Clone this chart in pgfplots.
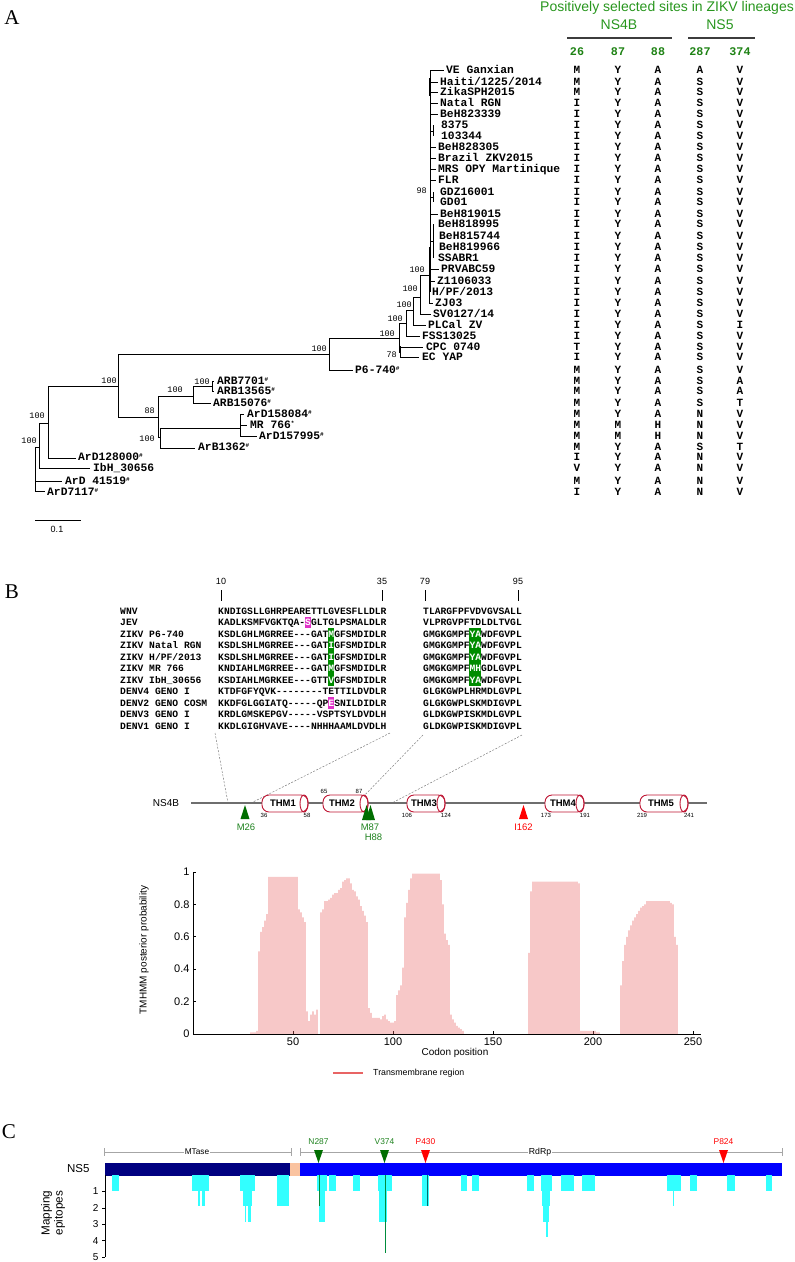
\documentclass[border=0pt]{standalone}
\usepackage{fontspec}
\setmainfont{Liberation Sans}
\newfontfamily\monof{Liberation Mono}
\newfontfamily\seriff{Liberation Serif}
\usepackage{pgfplots}
\pgfplotsset{compat=1.18}
\definecolor{hdgreen}{RGB}{40,150,30}
\definecolor{numgreen}{RGB}{30,130,20}
\definecolor{trigreen}{RGB}{0,110,0}
\definecolor{txtgreen}{RGB}{30,130,30}
\definecolor{hlgreen}{RGB}{0,140,0}
\definecolor{hlmag}{RGB}{225,50,200}
\definecolor{cylred}{RGB}{190,20,50}
\definecolor{tmbar}{RGB}{232,100,100}
\definecolor{navyb}{RGB}{0,0,128}
\definecolor{peach}{RGB}{250,195,160}
\definecolor{epicyan}{RGB}{50,255,255}
\definecolor{linegray}{RGB}{110,110,110}
\definecolor{hdrline}{RGB}{60,60,60}
\definecolor{mkgreen}{RGB}{0,140,60}
\definecolor{mkteal}{RGB}{0,110,110}

\newcommand{\labfont}{\monof\bfseries\fontsize{11.3}{12}\selectfont}
\newcommand{\hs}{\raisebox{3.5pt}{\fontsize{6}{6}\selectfont\#}}
\newcommand{\st}{\raisebox{3.5pt}{\fontsize{6}{6}\selectfont*}}
\tikzset{
 tlab/.style={anchor=base west,inner sep=0pt,yshift=-3.8pt,font=\labfont},
 tcell/.style={anchor=base,inner sep=0pt,yshift=-3.7pt,font=\monof\bfseries\fontsize{11}{12}\selectfont},
 bsl/.style={anchor=south east,inner sep=0pt,font=\monof\fontsize{8.5}{9}\selectfont},
 aln/.style={anchor=base west,inner sep=0pt,yshift=-3.3pt,font=\monof\bfseries\fontsize{9.67}{10}\selectfont},
}
\newcommand{\lab}[3]{\node[tlab] at (axis cs:#1,#2) {#3};}
\newcommand{\bs}[3]{\node[bsl] at (axis cs:#1,#2) {#3};}
\newcommand{\row}[6]{%
 \node[tcell] at (axis cs:577,#1) {#2};%
 \node[tcell] at (axis cs:618,#1) {#3};%
 \node[tcell] at (axis cs:658,#1) {#4};%
 \node[tcell] at (axis cs:700,#1) {#5};%
 \node[tcell] at (axis cs:740,#1) {#6};}
\newcommand{\aln}[4]{%
 \node[aln] at (axis cs:120,#1) {#2};%
 \node[aln] at (axis cs:218,#1) {#3};%
 \node[aln] at (axis cs:423,#1) {#4};}
\newcommand{\W}[1]{\textcolor{white}{#1}}
% cylinder: xl, xr, ellipse centre, label, label centre
\newcommand{\cyl}[5]{%
 \draw[cylred,fill=white,line width=0.9pt,rounded corners=7pt] (axis cs:#1,795) rectangle (axis cs:#2,812);%
 \draw[cylred,line width=0.9pt] (axis cs:#3,803.5) ellipse [x radius=4pt,y radius=8.5pt];%
 \node[font=\bfseries\fontsize{9.5}{10}\selectfont,inner sep=0pt] at (axis cs:#5,803.5) {#4};}
\newcommand{\epi}[3]{\addplot[fill=epicyan,draw=none] coordinates {(#1,0) (#1,#3) (#2,#3) (#2,0)} --cycle;}

\begin{document}
\begin{tikzpicture}
\useasboundingbox (0,0) rectangle (795pt,1262pt);
%================ canvas axis (pixel coordinates) ================
\begin{axis}[at={(0,0)},anchor=south west,width=795pt,height=1262pt,scale only axis,
 xmin=0,xmax=795,ymin=0,ymax=1262,y dir=reverse,hide axis,clip=false,enlargelimits=false]

% ---------- panel letters
\node[font=\seriff\fontsize{21}{22}\selectfont] at (axis cs:12,18) {A};
\node[font=\seriff\fontsize{21}{22}\selectfont] at (axis cs:12,592) {B};
\node[font=\seriff\fontsize{21}{22}\selectfont] at (axis cs:9,1132) {C};

% ---------- tree
\addplot[black,line width=0.8pt,unbounded coords=jump] coordinates {
(35,447) (35,491) (nan,nan) (35,491) (45,491) (nan,nan) (35,481) (62,481) (nan,nan)
(35,447) (39,447) (nan,nan) (39,423) (39,468) (nan,nan) (39,468) (90,468) (nan,nan)
(39,423) (48,423) (nan,nan) (48,386) (48,458) (nan,nan) (48,458) (76,458) (nan,nan)
(48,386) (118,386) (nan,nan) (118,354) (118,417) (nan,nan) (118,354) (329,354) (nan,nan)
(118,417) (158,417) (nan,nan) (158,396) (158,437) (nan,nan) (158,396) (193,396) (nan,nan)
(158,437) (160,437) (nan,nan) (160,428) (160,448) (nan,nan) (160,448) (195,448) (nan,nan)
(160,428) (240,428) (nan,nan) (240,414) (240,436) (nan,nan) (240,414) (244,414) (nan,nan)
(240,425) (247,425) (nan,nan) (240,436) (257,436) (nan,nan)
(193,386) (193,403) (nan,nan) (193,403) (211,403) (nan,nan) (193,386) (212,386) (nan,nan)
(212,381) (212,391) (nan,nan) (212,381) (214,381) (nan,nan) (212,391) (214,391) (nan,nan)
(329,338) (329,370) (nan,nan) (329,370) (353,370) (nan,nan) (329,338) (399,338) (nan,nan)
(399,323) (399,352) (nan,nan) (399,352) (400,352) (nan,nan) (400,346) (400,357) (nan,nan)
(400,347) (423,347) (nan,nan) (400,357) (419,357) (nan,nan)
(399,323) (406,323) (nan,nan) (406,310) (406,336) (nan,nan) (406,336) (420,336) (nan,nan)
(406,310) (413,310) (nan,nan) (413,297) (413,325) (nan,nan) (413,325) (426,325) (nan,nan)
(413,297) (420,297) (nan,nan) (420,275) (420,314) (nan,nan) (420,314) (431,314) (nan,nan)
(420,275) (429,275) (nan,nan) (429,247) (429,303) (nan,nan) (429,303) (433,303) (nan,nan)
(430,70) (430,292) (nan,nan) (430,70) (444,70) (nan,nan)
(430,82) (438,82) (nan,nan) (430,92) (438,92) (nan,nan) (430,103) (438,103) (nan,nan)
(430,114) (438,114) (nan,nan) (430,131) (433,131) (nan,nan) (433,125) (433,136) (nan,nan)
(430,147) (436,147) (nan,nan) (430,158) (436,158) (nan,nan) (430,169) (436,169) (nan,nan)
(430,180) (436,180) (nan,nan) (430,197) (433,197) (nan,nan) (433,192) (433,202) (nan,nan)
(430,214) (438,214) (nan,nan) (430,241) (433,241) (nan,nan) (433,224) (433,258) (nan,nan)
(430,269) (439,269) (nan,nan) (430,281) (435,281)
};
\addplot[black,line width=1.6pt] coordinates {(430,78) (430,96)};
% scale bar
\addplot[black,line width=0.8pt] coordinates {(35,520) (81,520)};
\node[font=\fontsize{9}{10}\selectfont] at (axis cs:57,529) {0.1};

% bootstrap values
\bs{37}{444}{100} \bs{45}{419}{100} \bs{117}{384}{100} \bs{155}{414}{88}
\bs{155}{442}{100} \bs{183}{393}{100} \bs{210}{385}{100} \bs{327}{352}{100}
\bs{395}{337}{100} \bs{397}{358}{78} \bs{403}{322}{100} \bs{412}{308}{100}
\bs{418}{292}{100} \bs{425}{273}{100} \bs{427}{194}{98}

% leaf labels
\lab{446}{70}{VE Ganxian}
\lab{440}{82}{Haiti/1225/2014}
\lab{440}{92}{ZikaSPH2015}
\lab{440}{103}{Natal RGN}
\lab{440}{114}{BeH823339}
\lab{441}{125}{8375}
\lab{441}{136}{103344}
\lab{438}{147}{BeH828305}
\lab{438}{158}{Brazil ZKV2015}
\lab{438}{169}{MRS OPY Martinique}
\lab{438}{180}{FLR}
\lab{440}{192}{GDZ16001}
\lab{440}{202}{GD01}
\lab{440}{214}{BeH819015}
\lab{438}{224}{BeH818995}
\lab{439}{236}{BeH815744}
\lab{439}{247}{BeH819966}
\lab{438}{258}{SSABR1}
\lab{441}{269}{PRVABC59}
\lab{437}{281}{Z1106033}
\lab{432}{292}{H/PF/2013}
\lab{435}{303}{ZJ03}
\lab{433}{314}{SV0127/14}
\lab{428}{325}{PLCal ZV}
\lab{422}{336}{FSS13025}
\lab{426}{347}{CPC 0740}
\lab{422}{357}{EC YAP}
\lab{355}{370}{P6-740\hs}
\lab{217}{381}{ARB7701\hs}
\lab{217}{391}{ARB13565\hs}
\lab{213}{403}{ARB15076\hs}
\lab{247}{414}{ArD158084\hs}
\lab{250}{425}{MR 766\st}
\lab{259}{436}{ArD157995\hs}
\lab{198}{447}{ArB1362\hs}
\lab{78}{457}{ArD128000\hs}
\lab{93}{468}{IbH\_30656}
\lab{65}{481}{ArD 41519\hs}
\lab{47}{492}{ArD7117\hs}

% ---------- table of selected sites
\node[text=hdgreen,font=\fontsize{14}{15}\selectfont,inner sep=0pt] at (axis cs:667,8) {Positively selected sites in ZIKV lineages};
\node[text=hdgreen,font=\fontsize{14}{15}\selectfont,inner sep=0pt] at (axis cs:619,25) {NS4B};
\node[text=hdgreen,font=\fontsize{14}{15}\selectfont,inner sep=0pt] at (axis cs:720,25) {NS5};
\addplot[fill=hdrline,draw=none] coordinates {(567,37) (672,37) (672,39) (567,39)} --cycle;
\addplot[fill=hdrline,draw=none] coordinates {(688,37) (755,37) (755,39) (688,39)} --cycle;
\node[tcell,text=numgreen,font=\monof\bfseries\fontsize{11.7}{12}\selectfont] at (axis cs:577,52) {26};
\node[tcell,text=numgreen,font=\monof\bfseries\fontsize{11.7}{12}\selectfont] at (axis cs:618,52) {87};
\node[tcell,text=numgreen,font=\monof\bfseries\fontsize{11.7}{12}\selectfont] at (axis cs:658,52) {88};
\node[tcell,text=numgreen,font=\monof\bfseries\fontsize{11.7}{12}\selectfont] at (axis cs:700,52) {287};
\node[tcell,text=numgreen,font=\monof\bfseries\fontsize{11.7}{12}\selectfont] at (axis cs:740,52) {374};
\row{70}{M}{Y}{A}{A}{V}
\row{82}{M}{Y}{A}{S}{V}
\row{92}{M}{Y}{A}{S}{V}
\row{103}{I}{Y}{A}{S}{V}
\row{114}{I}{Y}{A}{S}{V}
\row{125}{I}{Y}{A}{S}{V}
\row{136}{I}{Y}{A}{S}{V}
\row{147}{I}{Y}{A}{S}{V}
\row{158}{I}{Y}{A}{S}{V}
\row{169}{I}{Y}{A}{S}{V}
\row{180}{I}{Y}{A}{S}{V}
\row{192}{I}{Y}{A}{S}{V}
\row{202}{I}{Y}{A}{S}{V}
\row{214}{I}{Y}{A}{S}{V}
\row{224}{I}{Y}{A}{S}{V}
\row{236}{I}{Y}{A}{S}{V}
\row{247}{I}{Y}{A}{S}{V}
\row{258}{I}{Y}{A}{S}{V}
\row{269}{I}{Y}{A}{S}{V}
\row{281}{I}{Y}{A}{S}{V}
\row{292}{I}{Y}{A}{S}{V}
\row{303}{I}{Y}{A}{S}{V}
\row{314}{I}{Y}{A}{S}{V}
\row{325}{I}{Y}{A}{S}{I}
\row{336}{I}{Y}{A}{S}{V}
\row{347}{T}{Y}{A}{S}{V}
\row{357}{I}{Y}{A}{S}{V}
\row{370}{M}{Y}{A}{S}{V}
\row{381}{M}{Y}{A}{S}{A}
\row{391}{M}{Y}{A}{S}{A}
\row{403}{M}{Y}{A}{S}{T}
\row{414}{M}{Y}{A}{N}{V}
\row{425}{M}{M}{H}{N}{V}
\row{436}{M}{M}{H}{N}{V}
\row{447}{M}{Y}{A}{S}{T}
\row{457}{I}{Y}{A}{N}{V}
\row{468}{V}{Y}{A}{N}{V}
\row{481}{M}{Y}{A}{N}{V}
\row{492}{I}{Y}{A}{N}{V}

% ---------- panel B alignment
\addplot[fill=hlgreen,draw=none] coordinates {(328.2,628.25) (334.0,628.25) (334.0,685.75) (328.2,685.75)} --cycle;
\addplot[fill=hlgreen,draw=none] coordinates {(469.4,628.25) (481.0,628.25) (481.0,685.75) (469.4,685.75)} --cycle;
\addplot[fill=hlmag,draw=none] coordinates {(305.0,616.75) (310.8,616.75) (310.8,628.25) (305.0,628.25)} --cycle;
\addplot[fill=hlmag,draw=none] coordinates {(328.2,697.25) (334.0,697.25) (334.0,708.75) (328.2,708.75)} --cycle;
\node[font=\fontsize{9}{10}\selectfont] at (axis cs:221,581) {10};
\node[font=\fontsize{9}{10}\selectfont] at (axis cs:382,581) {35};
\node[font=\fontsize{9}{10}\selectfont] at (axis cs:425,581) {79};
\node[font=\fontsize{9}{10}\selectfont] at (axis cs:518,581) {95};
\addplot[black,line width=0.7pt,unbounded coords=jump] coordinates {(221,590) (221,601) (nan,nan) (382,590) (382,601) (nan,nan) (425,590) (425,601) (nan,nan) (518,590) (518,601)};
\aln{611}{WNV}{KNDIGSLLGHRPEARETTLGVESFLLDLR}{TLARGFPFVDVGVSALL}
\aln{622.5}{JEV}{KADLKSMFVGKTQA-\W{S}GLTGLPSMALDLR}{VLPRGVPFTDLDLTVGL}
\aln{634}{ZIKV P6-740}{KSDLGHLMGRREE---GAT\W{M}GFSMDIDLR}{GMGKGMPF\W{YA}WDFGVPL}
\aln{645.5}{ZIKV Natal RGN}{KSDLSHLMGRREE---GAT\W{I}GFSMDIDLR}{GMGKGMPF\W{YA}WDFGVPL}
\aln{657}{ZIKV H/PF/2013}{KSDLSHLMGRREE---GAT\W{I}GFSMDIDLR}{GMGKGMPF\W{YA}WDFGVPL}
\aln{668.5}{ZIKV MR 766}{KNDIAHLMGRREE---GAT\W{M}GFSMDIDLR}{GMGKGMPF\W{MH}GDLGVPL}
\aln{680}{ZIKV IbH\_30656}{KSDIAHLMGRKEE---GTT\W{V}GFSMDIDLR}{GMGKGMPF\W{YA}WDFGVPL}
\aln{691.5}{DENV4 GENO I}{KTDFGFYQVK--------TETTILDVDLR}{GLGKGWPLHRMDLGVPL}
\aln{703}{DENV2 GENO COSM}{KKDFGLGGIATQ-----QP\W{E}SNILDIDLR}{GLGKGWPLSKMDIGVPL}
\aln{714.5}{DENV3 GENO I}{KRDLGMSKEPGV-----VSPTSYLDVDLH}{GLDKGWPISKMDLGVPL}
\aln{726}{DENV1 GENO I}{KKDLGIGHVAVE----NHHHAAMLDVDLH}{GLDKGWPISKMDIGVPL}

% dashed connectors
\addplot[gray,line width=0.5pt,dash pattern=on 2pt off 1.5pt,unbounded coords=jump] coordinates {
(215,733) (228,803) (nan,nan) (390,733) (251,803) (nan,nan) (423,735) (360,800) (nan,nan) (522,735) (392,803)};

% ---------- NS4B topology
\addplot[fill=linegray,draw=none] coordinates {(191,802.2) (707,802.2) (707,803.8) (191,803.8)} --cycle;
\node[font=\fontsize{10}{11}\selectfont] at (axis cs:166,803) {NS4B};
\cyl{262}{308}{304}{THM1}{283}
\cyl{323}{368}{364}{THM2}{342}
\cyl{407}{445}{441}{THM3}{424}
\cyl{545}{584}{580}{THM4}{563}
\cyl{640}{688}{684}{THM5}{661}
\node[font=\fontsize{6}{6}\selectfont] at (axis cs:264,815) {36};
\node[font=\fontsize{6}{6}\selectfont] at (axis cs:307,815) {58};
\node[font=\fontsize{6}{6}\selectfont] at (axis cs:324,791) {65};
\node[font=\fontsize{6}{6}\selectfont] at (axis cs:359,791) {87};
\node[font=\fontsize{6}{6}\selectfont] at (axis cs:407,815) {106};
\node[font=\fontsize{6}{6}\selectfont] at (axis cs:446,815) {124};
\node[font=\fontsize{6}{6}\selectfont] at (axis cs:546,815) {173};
\node[font=\fontsize{6}{6}\selectfont] at (axis cs:585,815) {191};
\node[font=\fontsize{6}{6}\selectfont] at (axis cs:642,815) {219};
\node[font=\fontsize{6}{6}\selectfont] at (axis cs:689,815) {241};
\addplot[fill=trigreen,draw=none] coordinates {(240.5,819) (249.5,819) (245,805)} --cycle;
\addplot[fill=trigreen,draw=none] coordinates {(362,820) (371,820) (366.5,805)} --cycle;
\addplot[fill=trigreen,draw=none] coordinates {(366,820) (375,820) (370.5,805)} --cycle;
\addplot[fill=red,draw=none] coordinates {(519,819) (528,819) (523.5,805)} --cycle;
\node[text=txtgreen,font=\fontsize{9.5}{10}\selectfont] at (axis cs:246,827) {M26};
\node[text=txtgreen,font=\fontsize{9.5}{10}\selectfont] at (axis cs:370,827) {M87};
\node[text=txtgreen,font=\fontsize{9.5}{10}\selectfont] at (axis cs:373.5,837) {H88};
\node[text=red,font=\fontsize{9.5}{10}\selectfont] at (axis cs:523.5,827) {I162};

% ---------- TMHMM labels and legend
\node[rotate=90,font=\fontsize{10}{11}\selectfont] at (axis cs:144,950) {TMHMM posterior probability};
\node[font=\fontsize{10}{11}\selectfont] at (axis cs:455,1053) {Codon position};
\addplot[fill=tmbar,draw=none] coordinates {(333,1072.2) (363,1072.2) (363,1073.8) (333,1073.8)} --cycle;
\node[anchor=west,inner sep=0pt,font=\fontsize{8.8}{10}\selectfont] at (axis cs:373,1073) {Transmembrane region};

% ---------- panel C (NS5 domains)
\addplot[gray!70,line width=0.6pt,unbounded coords=jump] coordinates {
(104,1152) (291,1152) (nan,nan) (104,1148) (104,1156) (nan,nan) (291,1148) (291,1156) (nan,nan)
(300,1152) (782,1152) (nan,nan) (300,1148) (300,1156) (nan,nan) (782,1148) (782,1156)};
\node[fill=white,inner sep=1pt,font=\fontsize{8.3}{9}\selectfont] at (axis cs:197,1152) {MTase};
\node[fill=white,inner sep=1pt,font=\fontsize{8.7}{9}\selectfont] at (axis cs:540,1152) {RdRp};
\addplot[fill=navyb,draw=none] coordinates {(105,1163) (290,1163) (290,1176) (105,1176)} --cycle;
\addplot[fill=peach,draw=none] coordinates {(290,1163) (300,1163) (300,1176) (290,1176)} --cycle;
\addplot[fill=blue,draw=none] coordinates {(300,1163) (782,1163) (782,1176) (300,1176)} --cycle;
\node[anchor=east,font=\fontsize{11.5}{12}\selectfont] at (axis cs:93,1169) {NS5};
\addplot[fill=trigreen,draw=none] coordinates {(314,1150) (323,1150) (318.5,1163)} --cycle;
\addplot[fill=trigreen,draw=none] coordinates {(380,1150) (389,1150) (384.5,1163)} --cycle;
\addplot[fill=red,draw=none] coordinates {(421,1150) (430,1150) (425.5,1163)} --cycle;
\addplot[fill=red,draw=none] coordinates {(719,1150) (728,1150) (723.5,1163)} --cycle;
\node[text=txtgreen,font=\fontsize{8.4}{9}\selectfont] at (axis cs:318.5,1142) {N287};
\node[text=txtgreen,font=\fontsize{8.4}{9}\selectfont] at (axis cs:384.5,1142) {V374};
\node[text=red,font=\fontsize{8.4}{9}\selectfont] at (axis cs:425.5,1142) {P430};
\node[text=red,font=\fontsize{8.4}{9}\selectfont] at (axis cs:723.5,1142) {P824};
\node[rotate=90,align=center,font=\fontsize{11.7}{13}\selectfont] at (axis cs:53,1213) {Mapping\\epitopes};
\end{axis}

%================ TMHMM posterior probability plot ================
\begin{axis}[at={(193pt,228pt)},anchor=south west,scale only axis,width=508pt,height=162pt,
 xmin=0,xmax=254,ymin=0,ymax=1,
 axis x line=bottom,axis y line=left,axis line style={-,black,line width=0.6pt},
 xtick={50,100,150,200,250},ytick={0,0.2,0.4,0.6,0.8,1},
 tick align=inside,major tick length=3pt,tick style={black,line width=0.6pt},
 /pgf/number format/assume math mode=true,
 ticklabel style={font=\fontsize{11}{13}\selectfont},
 clip=false]
\addplot[ybar,bar width=0.42,bar shift=0pt,fill=tmbar,draw=none] coordinates {
(29,0.01) (30,0.01) (31,0.01) (32,0.02) (33,0.51) (34,0.63) (35,0.66) (36,0.70) (37,0.74)
(38,0.97) (39,0.97) (40,0.97) (41,0.97) (42,0.97) (43,0.97) (44,0.97) (45,0.97) (46,0.97)
(47,0.97) (48,0.97) (49,0.97) (50,0.97) (51,0.97) (52,0.97)
(53,0.77) (54,0.75) (55,0.72) (56,0.69) (57,0.14) (58,0.08) (59,0.12) (60,0.14) (61,0.12) (62,0.15)
(64,0.75) (65,0.77) (66,0.82) (67,0.82) (68,0.83) (69,0.84) (70,0.86) (71,0.87) (72,0.87)
(73,0.89) (74,0.90) (75,0.94) (76,0.95) (77,0.96) (78,0.96) (79,0.93) (80,0.89) (81,0.88)
(82,0.85) (83,0.83) (84,0.79) (85,0.76) (86,0.73) (87,0.69)
(88,0.16) (89,0.13) (90,0.10) (91,0.10) (92,0.10) (93,0.10) (94,0.09) (95,0.11) (96,0.12)
(97,0.09) (98,0.08) (99,0.07) (100,0.07) (101,0.08)
(102,0.24) (103,0.27) (104,0.30) (105,0.41) (106,0.72) (107,0.81) (108,0.89) (109,0.96)
(110,0.99) (111,0.99) (112,0.99) (113,0.99) (114,0.99) (115,0.99) (116,0.99) (117,0.99)
(118,0.99) (119,0.99) (120,0.99) (121,0.99) (122,0.99) (123,0.99)
(124,0.95) (125,0.80) (126,0.62) (127,0.58) (128,0.55) (129,0.12) (130,0.09) (131,0.07)
(132,0.05) (133,0.04) (134,0.03) (135,0.02)
(168,0.50) (169,0.88) (170,0.94) (171,0.94) (172,0.94) (173,0.94) (174,0.94) (175,0.94)
(176,0.94) (177,0.94) (178,0.94) (179,0.94) (180,0.94) (181,0.94) (182,0.94) (183,0.94)
(184,0.94) (185,0.94) (186,0.94) (187,0.94) (188,0.94) (189,0.94) (190,0.94) (191,0.94)
(192,0.94) (193,0.93)
(194,0.02) (195,0.02) (196,0.02) (197,0.02) (198,0.02) (199,0.02) (200,0.02) (201,0.02)
(202,0.01) (203,0.01)
(214,0.30) (215,0.45) (216,0.55) (217,0.60) (218,0.64) (219,0.67) (220,0.70) (221,0.72)
(222,0.74) (223,0.76) (224,0.78) (225,0.79) (226,0.80) (227,0.82) (228,0.82) (229,0.82)
(230,0.82) (231,0.82) (232,0.82) (233,0.82) (234,0.82) (235,0.82) (236,0.82) (237,0.82)
(238,0.82) (239,0.81) (240,0.80) (241,0.60) (242,0.55)
};
\end{axis}

%================ panel C epitope mapping ================
\begin{axis}[at={(105pt,5pt)},anchor=south west,scale only axis,width=677pt,height=82pt,
 xmin=1,xmax=903,ymin=0,ymax=5,y dir=reverse,
 axis x line=none,axis y line=left,axis line style={-,black,line width=0.6pt},
 ytick={1,2,3,4,5},tick align=outside,major tick length=3pt,tick style={black,line width=0.6pt},
 /pgf/number format/assume math mode=true,
 yticklabel style={font=\fontsize{10}{12}\selectfont},
 clip=false]
\epi{10}{20}{0.97}
\epi{117}{140}{0.97}
\epi{125}{127}{1.9}
\epi{130}{134}{1.9}
\epi{181}{201}{0.97}
\epi{185}{197}{1.9}
\epi{187}{189}{2.85}
\epi{191}{195}{2.85}
\epi{230}{246}{1.9}
\epi{283}{297}{0.97}
\epi{286}{294}{2.85}
\epi{299}{309}{0.97}
\epi{331}{341}{0.97}
\epi{365}{383}{0.97}
\epi{366}{377}{2.85}
\epi{423}{433}{1.9}
\epi{475}{483}{0.97}
\epi{490}{499}{0.97}
\epi{563}{572}{0.97}
\epi{582}{597}{0.97}
\epi{583}{594}{1.9}
\epi{585}{593}{2.85}
\epi{589}{591}{3.8}
\epi{609}{626}{0.97}
\epi{636}{654}{0.97}
\epi{750}{768}{0.97}
\epi{758}{759.5}{1.9}
\epi{780}{790}{0.97}
\epi{830}{840}{0.97}
\epi{882}{890}{0.97}
\addplot[fill=mkgreen,draw=none] coordinates {(286.4,0) (287.6,0) (287.6,1.9) (286.4,1.9)} --cycle;
\addplot[fill=mkgreen,draw=none] coordinates {(373.4,0) (374.6,0) (374.6,4.75) (373.4,4.75)} --cycle;
\addplot[fill=mkteal,draw=none] coordinates {(429.4,0) (430.6,0) (430.6,1.9) (429.4,1.9)} --cycle;
\end{axis}
\end{tikzpicture}
\end{document}
